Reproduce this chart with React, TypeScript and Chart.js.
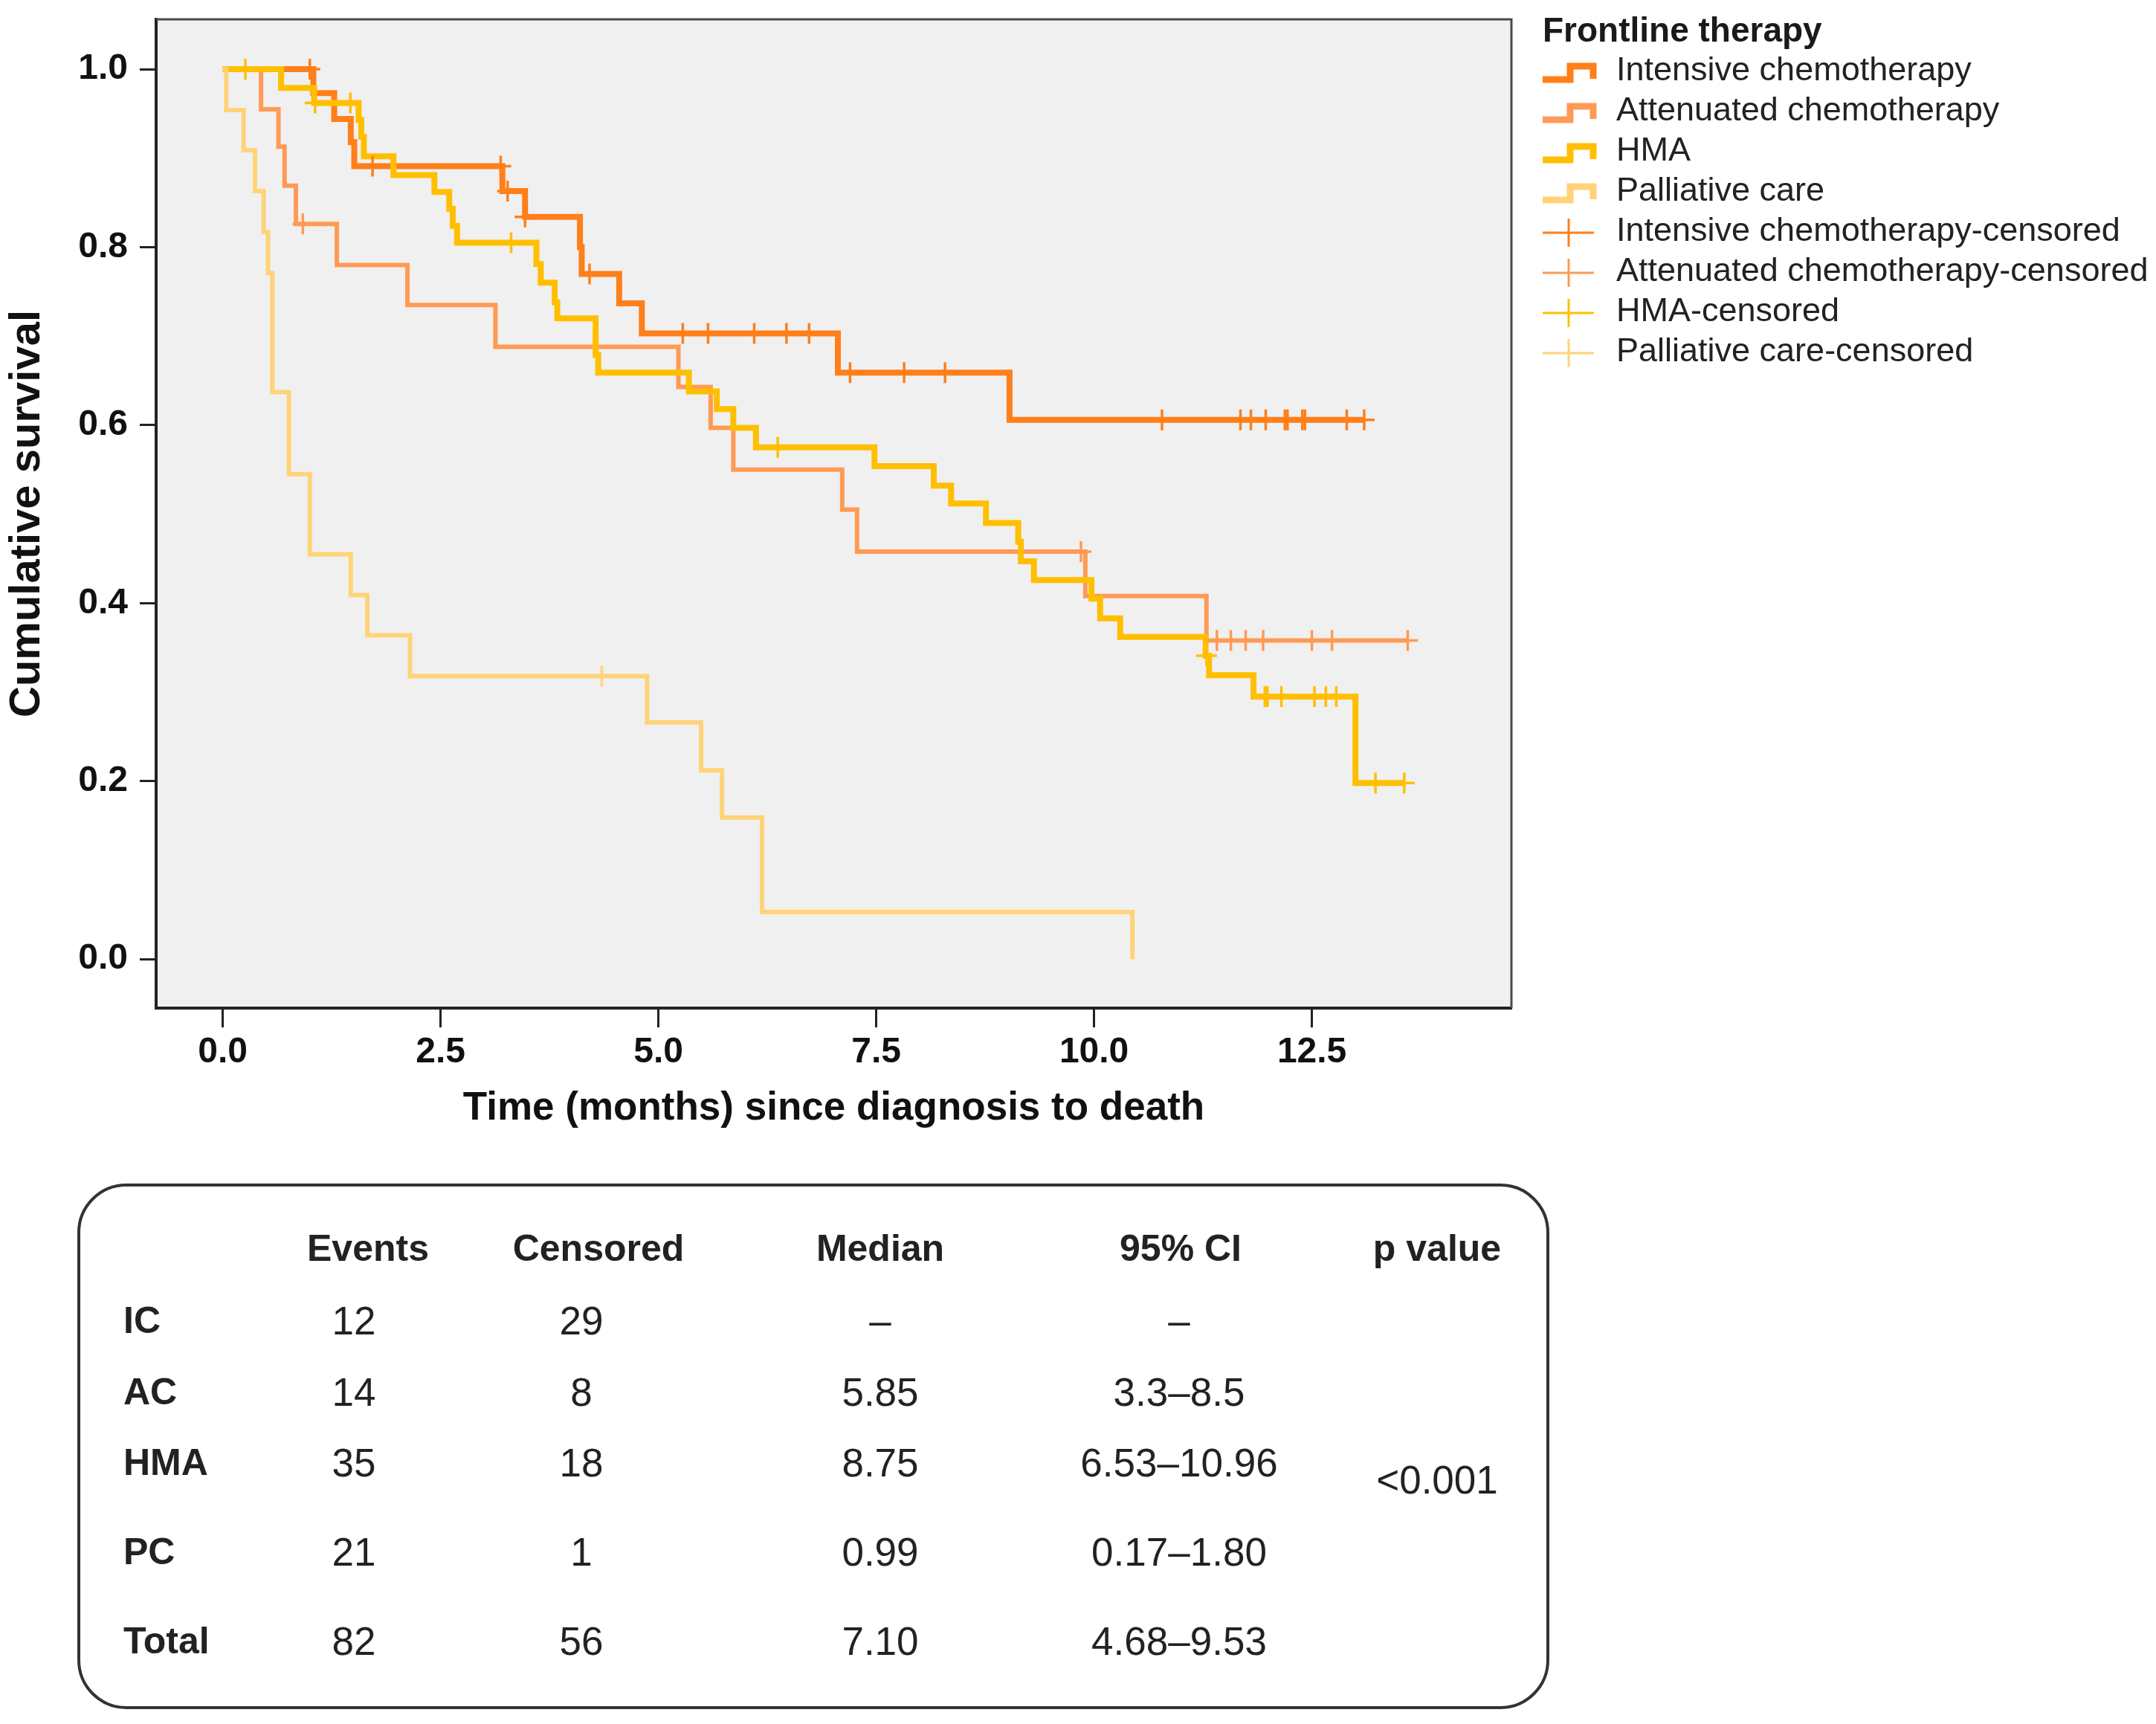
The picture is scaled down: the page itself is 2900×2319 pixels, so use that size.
import React, { useEffect, useRef } from "react";
import { Chart, registerables } from "chart.js";

Chart.register(...registerables);

const FONT = "'Liberation Sans', Arial, Helvetica, sans-serif";

// ---------- data ----------
const GROUPS = ["Intensive chemotherapy", "Attenuated chemotherapy", "HMA", "Palliative care"];
const COLORS = ["#FF7F1A", "#FF9A55", "#FFBF00", "#FFD377"];
const LEGEND_TITLE = "Frontline therapy";

const IC_TIMES = [0, 1.04, 1.28, 1.47, 1.51, 3.21, 3.47, 4.10, 4.12, 4.55, 4.81, 7.06, 9.03, 13.10];
const IC_SURV = [1, 0.973, 0.944, 0.918, 0.891, 0.863, 0.834, 0.800, 0.770, 0.737, 0.703, 0.659, 0.606, 0.606];
const IC_CENSORED = [1.0, 1.72, 3.19, 3.27, 3.47, 4.21, 5.28, 5.57, 6.10, 6.47, 6.73, 7.20, 7.82, 8.29, 10.78, 11.68, 11.80, 11.97, 12.19, 12.22, 12.39, 12.42, 12.90, 13.10];

const AC_TIMES = [0, 0.44, 0.64, 0.71, 0.84, 1.31, 2.12, 3.13, 5.23, 5.60, 5.86, 7.11, 7.28, 9.90, 11.29, 13.60];
const AC_SURV = [1, 0.955, 0.913, 0.869, 0.826, 0.780, 0.735, 0.688, 0.643, 0.597, 0.550, 0.505, 0.458, 0.408, 0.358, 0.358];
const AC_CENSORED = [0.92, 9.85, 11.41, 11.57, 11.74, 11.94, 12.50, 12.73, 13.60];

const HMA_TIMES = [0, 0.67, 1.05, 1.56, 1.59, 1.62, 1.96, 2.43, 2.60, 2.64, 2.69, 3.60, 3.65, 3.81, 3.84, 4.28, 4.31, 5.35, 5.67, 5.86, 6.12, 7.48, 8.16, 8.36, 8.76, 9.13, 9.16, 9.31, 9.97, 10.07, 10.30, 11.28, 11.32, 11.83, 13.00, 13.56];
const HMA_SURV = [1, 0.979, 0.962, 0.943, 0.924, 0.902, 0.881, 0.862, 0.843, 0.824, 0.805, 0.781, 0.760, 0.738, 0.720, 0.679, 0.659, 0.638, 0.618, 0.597, 0.575, 0.554, 0.532, 0.512, 0.490, 0.469, 0.447, 0.426, 0.405, 0.383, 0.362, 0.341, 0.319, 0.295, 0.198, 0.198];
const HMA_CENSORED = [0.26, 1.06, 1.465, 3.31, 6.37, 11.29, 11.96, 11.99, 12.15, 12.53, 12.66, 12.78, 13.23, 13.56];

const PC_TIMES = [0, 0.04, 0.24, 0.37, 0.47, 0.52, 0.57, 0.76, 1.00, 1.47, 1.66, 2.15, 4.87, 5.49, 5.73, 6.19, 10.44];
const PC_SURV = [1, 0.954, 0.909, 0.863, 0.817, 0.771, 0.637, 0.545, 0.455, 0.409, 0.364, 0.318, 0.266, 0.212, 0.159, 0.053, 0];
const PC_CENSORED = [4.35];

const X_TICKS = [0, 2.5, 5, 7.5, 10, 12.5];
const Y_TICKS = [0, 0.2, 0.4, 0.6, 0.8, 1.0];

const TABLE_COLUMNS = ["Events", "Censored", "Median", "95% CI", "p value"];
const TABLE_ROWS = ["IC", "AC", "HMA", "PC", "Total"];
const EVENTS = ["12", "14", "35", "21", "82"];
const CENSORED_N = ["29", "8", "18", "1", "56"];
const MEDIANS = ["–", "5.85", "8.75", "0.99", "7.10"];
const CIS = ["–", "3.3–8.5", "6.53–10.96", "0.17–1.80", "4.68–9.53"];
const P_VALUE = "<0.001";

// ---------- helpers ----------
const SERIES = [
  { times: IC_TIMES, surv: IC_SURV, cens: IC_CENSORED, width: 8 },
  { times: AC_TIMES, surv: AC_SURV, cens: AC_CENSORED, width: 6 },
  { times: HMA_TIMES, surv: HMA_SURV, cens: HMA_CENSORED, width: 8 },
  { times: PC_TIMES, surv: PC_SURV, cens: PC_CENSORED, width: 6 },
];

function survAt(times: number[], surv: number[], t: number) {
  let v = surv[0];
  for (let i = 0; i < times.length; i++) if (times[i] <= t + 1e-9) v = surv[i];
  return v;
}

const CANVAS_W = 2900;
const CANVAS_H = 1560;

const bgPlugin = {
  id: "plotBg",
  beforeDraw(chart: any) {
    const { ctx, chartArea: a } = chart;
    ctx.save();
    ctx.fillStyle = "#F0F0F0";
    ctx.fillRect(a.left, a.top, a.right - a.left, a.bottom - a.top);
    ctx.restore();
  },
  afterDraw(chart: any) {
    const { ctx, chartArea: a } = chart;
    ctx.save();
    ctx.strokeStyle = "#4a4a4a";
    ctx.lineWidth = 3;
    ctx.beginPath();
    ctx.moveTo(a.left, a.top);
    ctx.lineTo(a.right, a.top);
    ctx.lineTo(a.right, a.bottom);
    ctx.stroke();
    ctx.restore();
  },
};

const legendPlugin = {
  id: "kmLegend",
  afterDraw(chart: any) {
    const { ctx, chartArea: a } = chart;
    const x0 = a.right + 42;
    ctx.save();
    ctx.fillStyle = "#1a1a1a";
    ctx.font = `bold 46px ${FONT}`;
    ctx.textBaseline = "alphabetic";
    ctx.textAlign = "left";
    ctx.fillText(LEGEND_TITLE, x0, 56);
    const labels = [...GROUPS, ...GROUPS.map((g) => `${g}-censored`)];
    labels.forEach((label, i) => {
      const y = 96 + i * 54;
      const color = COLORS[i % 4];
      ctx.strokeStyle = color;
      if (i < 4) {
        ctx.lineWidth = 9;
        ctx.lineJoin = "miter";
        ctx.lineCap = "butt";
        ctx.beginPath();
        ctx.moveTo(x0, y + 11);
        ctx.lineTo(x0 + 37, y + 11);
        ctx.lineTo(x0 + 37, y - 7);
        ctx.lineTo(x0 + 68, y - 7);
        ctx.lineTo(x0 + 68, y + 10);
        ctx.stroke();
      } else {
        ctx.lineWidth = 3;
        ctx.beginPath();
        ctx.moveTo(x0, y + 1);
        ctx.lineTo(x0 + 69, y + 1);
        ctx.moveTo(x0 + 35, y - 18);
        ctx.lineTo(x0 + 35, y + 20);
        ctx.stroke();
      }
      ctx.fillStyle = "#222";
      ctx.font = `45px ${FONT}`;
      ctx.textBaseline = "middle";
      ctx.fillText(label, x0 + 99, y);
    });
    ctx.restore();
  },
};

function KMChart() {
  const ref = useRef<HTMLCanvasElement | null>(null);
  useEffect(() => {
    if (!ref.current) return;
    const datasets: any[] = [];
    SERIES.forEach((s, i) => {
      datasets.push({
        label: GROUPS[i],
        data: s.times.map((t, k) => ({ x: t, y: s.surv[k] })),
        borderColor: COLORS[i],
        backgroundColor: COLORS[i],
        borderWidth: s.width,
        stepped: true,
        pointRadius: 0,
        fill: false,
        borderJoinStyle: "miter",
        borderCapStyle: "butt",
        order: 4 - i,
      });
    });
    SERIES.forEach((s, i) => {
      datasets.push({
        label: `${GROUPS[i]}-censored`,
        data: s.cens.map((t) => ({ x: t, y: survAt(s.times, s.surv, t) })),
        showLine: false,
        pointStyle: "cross",
        pointRadius: 14,
        pointBorderWidth: 3.5,
        pointBorderColor: COLORS[i],
        pointBackgroundColor: COLORS[i],
        borderColor: COLORS[i],
        order: 0,
      });
    });

    const chart = new Chart(ref.current, {
      type: "line",
      data: { datasets },
      plugins: [bgPlugin, legendPlugin],
      options: {
        animation: false,
        responsive: false,
        events: [],
        layout: { padding: { left: 0, top: 26, right: CANVAS_W - 2033, bottom: 0 } },
        plugins: { legend: { display: false }, tooltip: { enabled: false } },
        scales: {
          x: {
            type: "linear",
            min: -0.764,
            max: 14.79,
            afterFit: (scale: any) => {
              scale.height = CANVAS_H - 1356;
              scale.paddingLeft = 0;
              scale.paddingRight = 0;
            },
            afterBuildTicks: (scale: any) => { scale.ticks = X_TICKS.map((v) => ({ value: v })); },
            grid: { drawOnChartArea: false, drawTicks: true, tickLength: 26, tickColor: "#222", tickWidth: 3 },
            border: { display: true, color: "#222", width: 4 },
            ticks: {
              padding: 5,
              color: "#111",
              font: { family: FONT, size: 48, weight: "bold" },
              callback: (v: any) => Number(v).toFixed(1),
            },
            title: {
              display: true,
              text: "Time (months) since diagnosis to death",
              color: "#111",
              font: { family: FONT, size: 53, weight: "bold" },
              padding: { top: 0, bottom: 37 },
            },
          },
          y: {
            type: "linear",
            min: -0.055,
            max: 1.056,
            afterFit: (scale: any) => {
              scale.width = 210;
              scale.paddingTop = 0;
              scale.paddingBottom = 0;
            },
            afterBuildTicks: (scale: any) => { scale.ticks = Y_TICKS.map((v) => ({ value: v })); },
            grid: { drawOnChartArea: false, drawTicks: true, tickLength: 22, tickColor: "#222", tickWidth: 3 },
            border: { display: true, color: "#222", width: 4 },
            ticks: {
              padding: 16,
              color: "#111",
              font: { family: FONT, size: 48, weight: "bold" },
              callback: (v: any) => Number(v).toFixed(1),
            },
            title: {
              display: true,
              text: "Cumulative survival",
              color: "#111",
              font: { family: FONT, size: 58, weight: "bold" },
              padding: { top: 2, bottom: 0 },
            },
          },
        },
      } as any,
    });
    return () => chart.destroy();
  }, []);
  return (
    <canvas
      ref={ref}
      width={CANVAS_W}
      height={CANVAS_H}
      style={{ position: "absolute", left: 0, top: 0, width: CANVAS_W, height: CANVAS_H }}
    />
  );
}

const COL_X = [476, 782, 1184, 1586];
const HEAD_X = [495, 805, 1184, 1588, 1933];
const ROW_Y = [1776, 1872, 1967, 2087, 2207];

function cell(text: string, x: number, y: number, bold: boolean, align: "center" | "left", key: string) {
  return (
    <span
      key={key}
      style={{
        position: "absolute",
        left: x,
        top: y,
        transform: align === "center" ? "translate(-50%, -50%)" : "translate(0, -50%)",
        fontFamily: FONT,
        fontSize: bold ? 50 : 53,
        fontWeight: bold ? 700 : 400,
        lineHeight: 1,
        whiteSpace: "nowrap",
        color: "#222",
      }}
    >
      {text}
    </span>
  );
}

function SummaryTable() {
  const items: any[] = [];
  TABLE_COLUMNS.forEach((c, i) => items.push(cell(c, HEAD_X[i], 1679, true, "center", `h${i}`)));
  TABLE_ROWS.forEach((r, i) => {
    items.push(cell(r, 166, ROW_Y[i], true, "left", `r${i}`));
    items.push(cell(EVENTS[i], COL_X[0], ROW_Y[i], false, "center", `e${i}`));
    items.push(cell(CENSORED_N[i], COL_X[1], ROW_Y[i], false, "center", `c${i}`));
    items.push(cell(MEDIANS[i], COL_X[2], ROW_Y[i], false, "center", `m${i}`));
    items.push(cell(CIS[i], COL_X[3], ROW_Y[i], false, "center", `ci${i}`));
  });
  items.push(cell(P_VALUE, 1933, 1990, false, "center", "p"));
  return (
    <>
      <div
        style={{
          position: "absolute",
          left: 104,
          top: 1592,
          width: 1980,
          height: 707,
          boxSizing: "border-box",
          border: "4px solid #333",
          borderRadius: 66,
        }}
      />
      {items}
    </>
  );
}

export default function App() {
  return (
    <div style={{ position: "absolute", left: 0, top: 0, width: 2900, height: 2319, background: "#fff", overflow: "hidden" }}>
      <KMChart />
      <SummaryTable />
    </div>
  );
}
